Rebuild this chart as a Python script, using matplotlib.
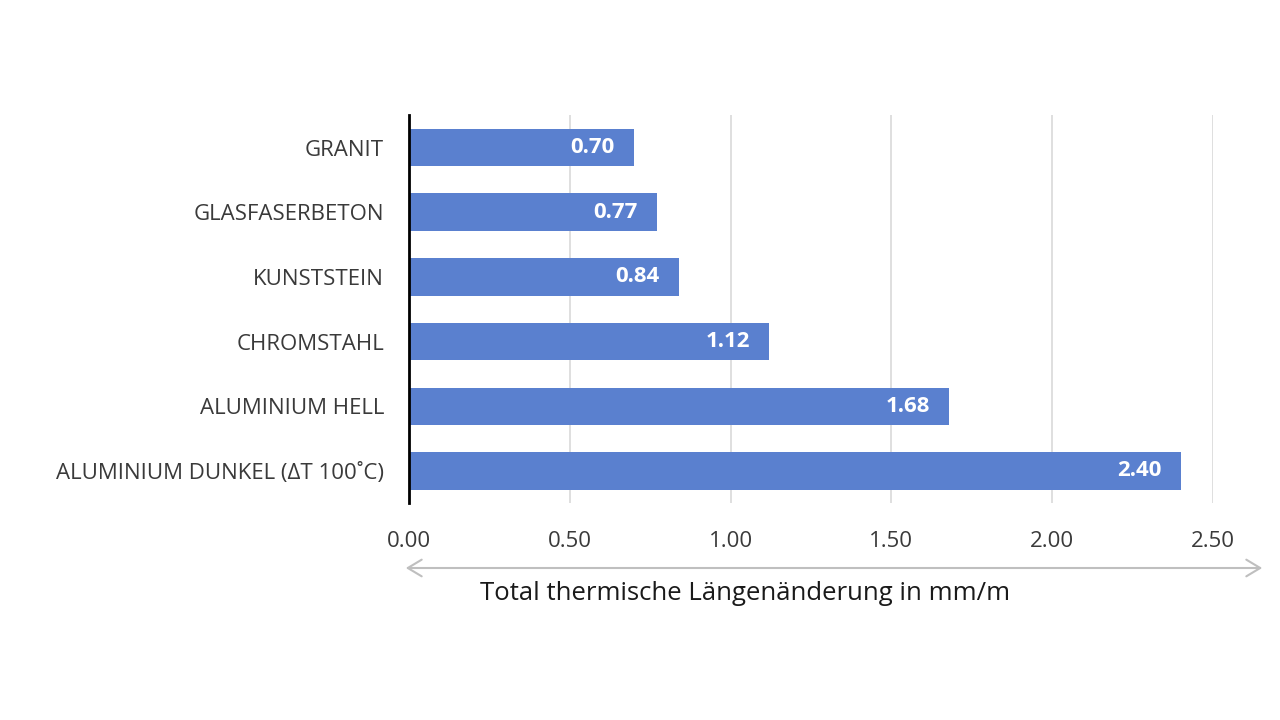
import numpy as np
import matplotlib.pyplot as plt

# data
materials = ["GRANIT", "GLASFASERBETON", "KUNSTSTEIN", "CHROMSTAHL",
             "ALUMINIUM HELL", "ALUMINIUM DUNKEL (\u0394T 100\u02daC)"]
values = [0.70, 0.77, 0.84, 1.12, 1.68, 2.40]
xticks = [0.0, 0.5, 1.0, 1.5, 2.0, 2.5]
xlabel = "Total thermische L\u00e4ngen\u00e4nderung in mm/m"

plt.rcParams['font.family'] = ['Open Sans', 'DejaVu Sans']

fig = plt.figure(figsize=(12.8, 7.2), dpi=100)
ax = fig.add_axes([0.3195, 0.301, 0.6282, 0.539])

bar_color = "#5a80cf"
ypos = np.arange(len(materials))
ax.barh(ypos, values, height=0.58, color=bar_color, zorder=3)
ax.set_ylim(len(materials) - 0.5, -0.5)
ax.set_xlim(0, 2.5)

for y, v in zip(ypos, values):
    ax.text(v - 0.06, y, "%.2f" % v, ha='right', va='center',
            color='white', fontsize=16, fontweight='bold', zorder=4)

ax.set_yticks(ypos)
ax.set_yticklabels(materials, fontsize=16, color='#3a3a3a')
ax.set_xticks(xticks)
ax.set_xticklabels(["%.2f" % t for t in xticks], fontsize=16, color='#3a3a3a')
ax.tick_params(axis='both', length=0)
ax.tick_params(axis='y', pad=18)
ax.tick_params(axis='x', pad=20)

ax.grid(axis='x', color='#d9d9d9', lw=1.2, zorder=0)
for s in ['top', 'right', 'bottom']:
    ax.spines[s].set_visible(False)
ax.spines['left'].set_color('black')
ax.spines['left'].set_linewidth(2)
ax.spines['left'].set_zorder(5)

# double arrow under the tick labels
fig.add_artist(plt.matplotlib.patches.FancyArrowPatch(
    (403 / 1280, 1 - 568 / 720), (1265 / 1280, 1 - 568 / 720),
    transform=fig.transFigure, arrowstyle='<->,head_length=10,head_width=6',
    color='#bfbfbf', lw=1.5))
fig.text(745 / 1280, 1 - 593 / 720, xlabel, ha='center', va='center',
         fontsize=18.5, color='#1a1a1a')

fig.savefig("out.png", dpi=100, facecolor='white')
